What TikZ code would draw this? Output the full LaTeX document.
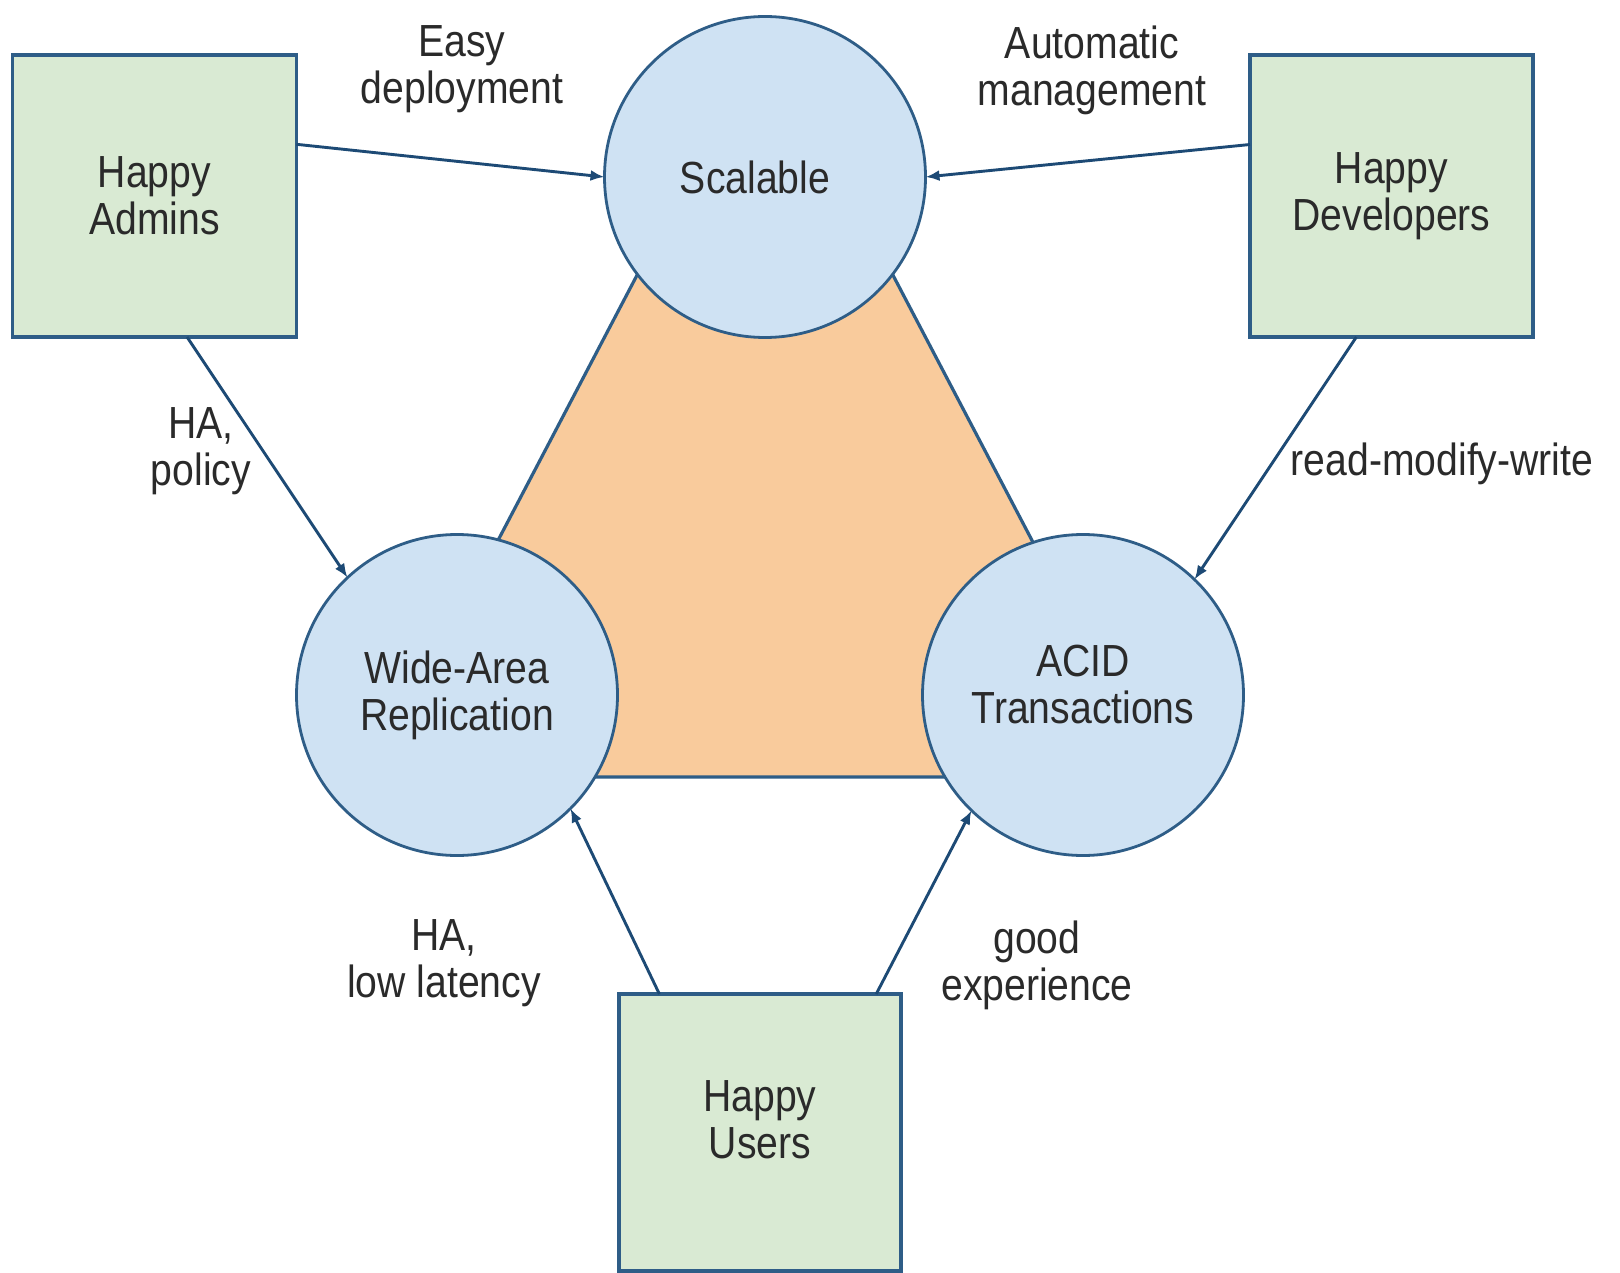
\documentclass[tikz,border=0pt]{standalone}
\usepackage{fontspec}
\setmainfont{Liberation Sans}[FakeStretch=0.87]
\usetikzlibrary{arrows.meta}
\definecolor{boxfill}{HTML}{D9EAD3}
\definecolor{circfill}{HTML}{CFE2F3}
\definecolor{trifill}{HTML}{F9CB9C}
\definecolor{edge}{HTML}{2E5D87}
\definecolor{arrowc}{HTML}{1D4A75}
\definecolor{txt}{HTML}{2A2A2A}
\begin{document}
\begin{tikzpicture}[x=1pt,y=-1pt,
  every node/.style={font=\fontsize{45}{47}\selectfont, text=txt, align=center, inner sep=0pt, outer sep=0pt},
  actor/.style={draw=edge, line width=3.2pt, fill=boxfill, rectangle},
  quality/.style={draw=edge, line width=2.8pt, fill=circfill, circle, minimum size=321pt},
  flow/.style={draw=arrowc, line width=2.9pt, -{Latex[length=14pt,width=11pt]}},
  note/.style={}]
\useasboundingbox (0,0) rectangle (1620,1273);
\fill[white] (0,0) rectangle (1620,1273);

% triangle
\coordinate (ta) at (765,31);
\coordinate (tl) at (374,777);
\coordinate (tr) at (1156,777);
\filldraw[fill=trifill, draw=edge, line width=3.2pt, line join=miter] (ta) -- (tl) -- (tr) -- cycle;

% circles
\node[quality, label={[xshift=-10pt]center:Scalable}] (sc) at (765,177) {};
\node[quality] (wa) at (457,695) {Wide-Area\\Replication};
\node[quality, label={[yshift=10pt]center:ACID\\Transactions}] (ac) at (1083,695) {};

% boxes
\node[actor, minimum width=284pt, minimum height=282pt] (adm) at (154.5,196) {Happy\\Admins};
\node[actor, minimum width=283pt, minimum height=282pt] (dev) at (1391.5,196) {Happy\\Developers};
\node[actor, minimum width=282pt, minimum height=277pt, label={[yshift=13pt]center:Happy\\Users}] (usr) at (760,1132.5) {};

% connectors
\draw[flow] (adm.20.6) -- (sc.180);
\draw[flow] (dev.160) -- (sc.0);
\draw[flow] (adm.-77.3) -- (wa.133.8);
\draw[flow] (dev.-104.8) -- (ac.46.2);
\draw[flow] (usr.126.6) -- (wa.-45.2);
\draw[flow] (usr.50.8) -- (ac.-134.8);

% labels
\node[note] (l1) at (462,69) {Easy\\deployment};
\node[note] (l2) at (1092,70) {Automatic\\management};
\node[note] (l3) at (201,451) {HA,\\policy};
\node[note] (l4) at (1442,464) {read-modify-write};
\node[note] (l5) at (444,963) {HA,\\low latency};
\node[note] (l6) at (1037,965) {good\\experience};
\end{tikzpicture}
\end{document}
